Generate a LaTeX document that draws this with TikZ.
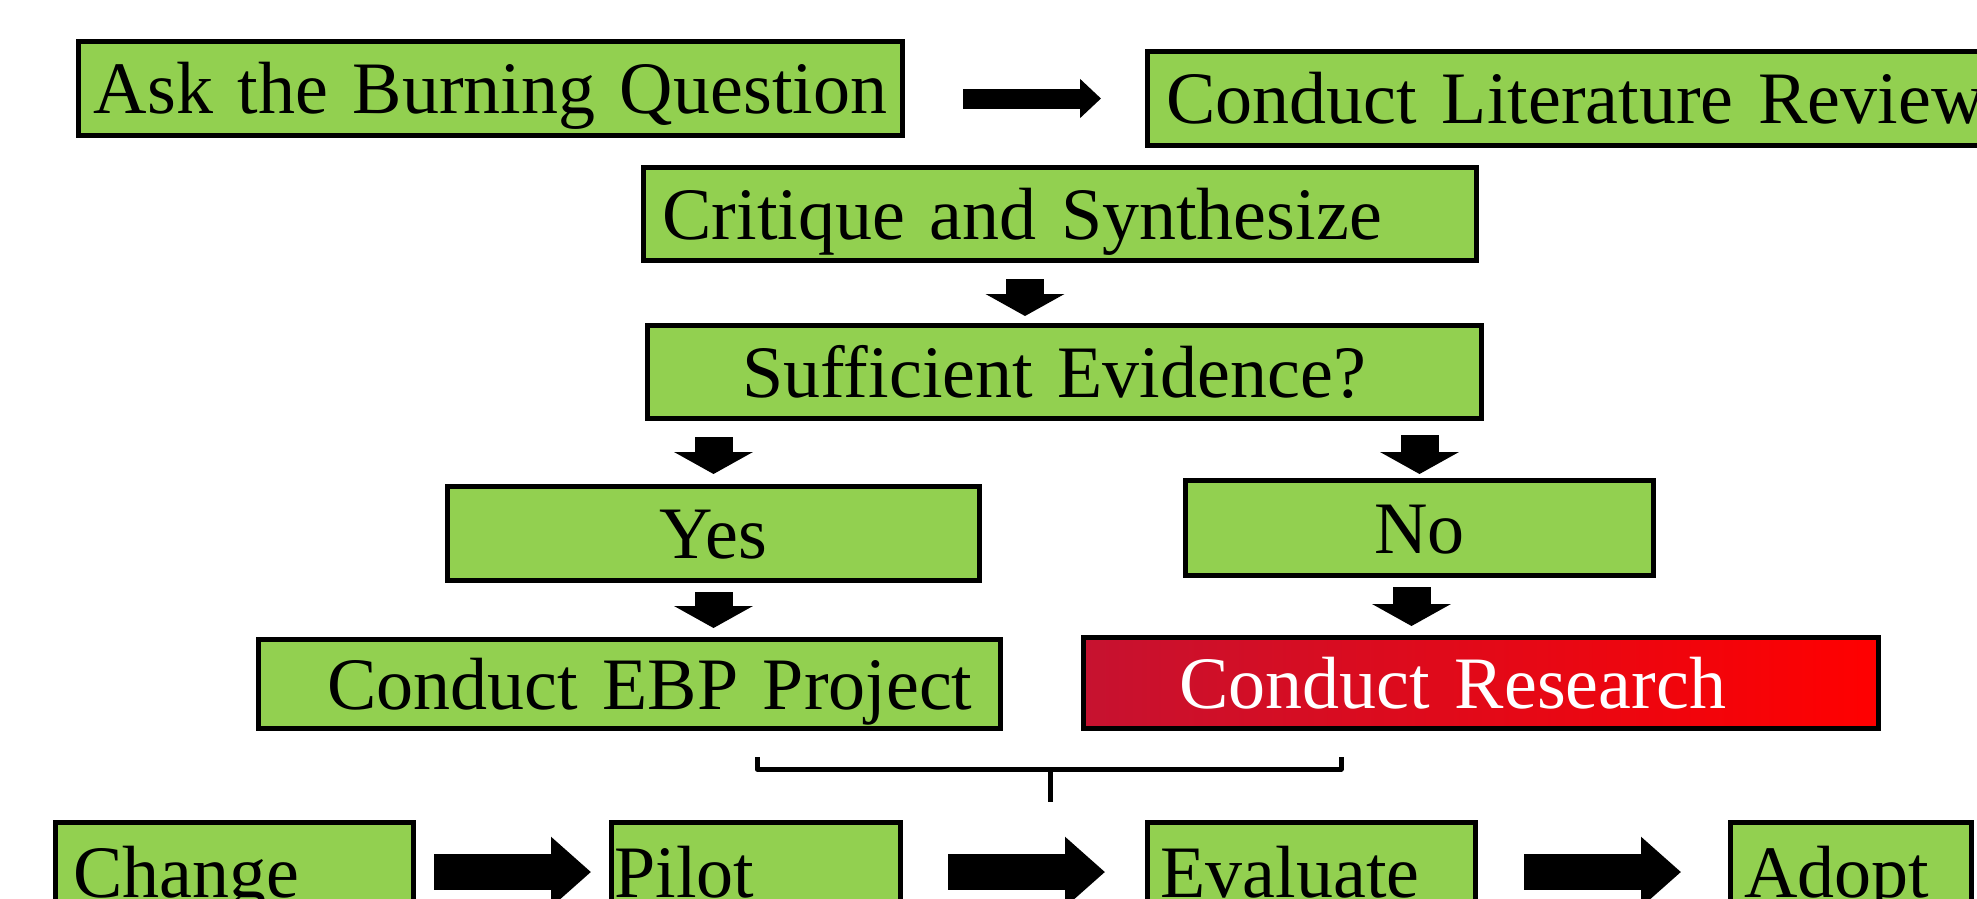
\documentclass[tikz,border=0pt]{standalone}
\usepackage{fontspec}
\setmainfont{Liberation Serif}
\usepackage{tikz}
\usetikzlibrary{arrows.meta}
\usetikzlibrary{positioning}
\definecolor{boxgreen}{RGB}{146,208,80}
\definecolor{resdark}{RGB}{198,18,48}

\begin{document}
\begin{tikzpicture}[x=1pt, y=-1pt,
		box/.style={draw, line width=5pt, fill=boxgreen, inner ysep=0pt, text height=50pt, text depth=0pt, font=\fontsize{74}{80}\selectfont},
		rarrow/.style={line width=20pt, -{Triangle[length=21pt, width=38pt]}},
		darrow/.style={line width=38pt, -{Triangle[length=22pt, width=78pt]}},
		barrow/.style={line width=36pt, -{Triangle[length=40pt, width=68pt]}}]

		 \useasboundingbox (0,0) rectangle (1977,898);
		 \clip (0,0) rectangle (1977,898);

		 % top row
		 \node [box, minimum height=94pt, text width=804pt, inner xsep=10pt, align=center] (ask) at (490.5,88.5) {Ask the Burning Question};
		 \node [box, minimum height=94pt, text width=857pt, inner xsep=19pt, align=left] (lit) at (1595,98.5) {Conduct Literature Review};
		 \node [box, minimum height=93pt, text width=795pt, inner xsep=19pt, align=left] (crit) at (1060,214) {Critique and Synthesize};
		 \node [box, minimum height=93pt, text width=644pt, inner xsep=95pt, align=left] (suff) at (1064.5,372) {Sufficient Evidence?};

		 % decision
		 \node [box, minimum height=94pt, text width=512pt, inner xsep=10pt, align=center] (yes) at (713.5,533.5) {Yes};
		 \node [box, minimum height=95pt, text width=448pt, inner xsep=10pt, align=center] (no) at (1419.5,528) {No};
		 \node [box, minimum height=89pt, text width=686pt, inner xsep=28pt, align=right] (ebp) at (629.5,684) {Conduct EBP Project};
		 \node [box, minimum height=91pt, text width=603pt, inner xsep=96pt, align=left, left color=resdark, right color=red, text=white] (res) at (1481,683) {Conduct Research};

		 % bottom row
		 \node [box, minimum height=100pt, text width=322pt, inner xsep=18pt, align=left] (change) at (234.5,872) {Change};
		 \node [box, minimum height=100pt, text width=283pt, inner xsep=3pt, align=left] (pilot) at (756,872) {Pilot};
		 \node [box, minimum height=100pt, text width=302pt, inner xsep=13pt, align=left] (eval) at (1311.5,872) {Evaluate};
		 \node [box, minimum height=100pt, text width=213pt, inner xsep=14pt, align=left] (adopt) at (1851,872) {Adopt};

		 % arrows
		 \draw [rarrow, shorten <=58pt, shorten >=44pt] (ask.east |- lit) -- (lit);
		 \draw [darrow, shorten <=16pt, shorten >=7pt] ([xshift=-35pt]crit.south) -- ([xshift=-35pt]crit.south |- suff.north);
		 \draw [darrow, shorten <=16pt, shorten >=10pt] (suff.south -| yes) -- (yes.north);
		 \draw [darrow, shorten <=14pt, shorten >=4pt] (suff.south -| no) -- (no.north);
		 \draw [darrow, shorten <=9pt, shorten >=9pt] (yes.south) -- (yes.south |- ebp.north);
		 \draw [darrow, shorten <=9pt, shorten >=9pt] ([xshift=-8pt]no.south) -- ([xshift=-8pt]no.south |- res.north);
		 \draw [barrow, shorten <=18pt, shorten >=18pt] (change) -- (pilot);
		 \draw [barrow, shorten <=45pt, shorten >=40pt] (pilot) -- (eval);
		 \draw [barrow, shorten <=46pt, shorten >=47pt] (eval) -- (adopt);

		 % bracket
		 \coordinate (bl) at (757,757);
		 \coordinate (br) at (1341,757);
		 \coordinate (bm) at (1050,769);
		 \coordinate (bs) at (1050,802);
		 \draw [line width=5pt, line join=round] (bl) -- (bl |- bm) -- (br |- bm) -- (br);
		 \draw [line width=5pt] (bm) -- (bs);
\end{tikzpicture}
\end{document}
